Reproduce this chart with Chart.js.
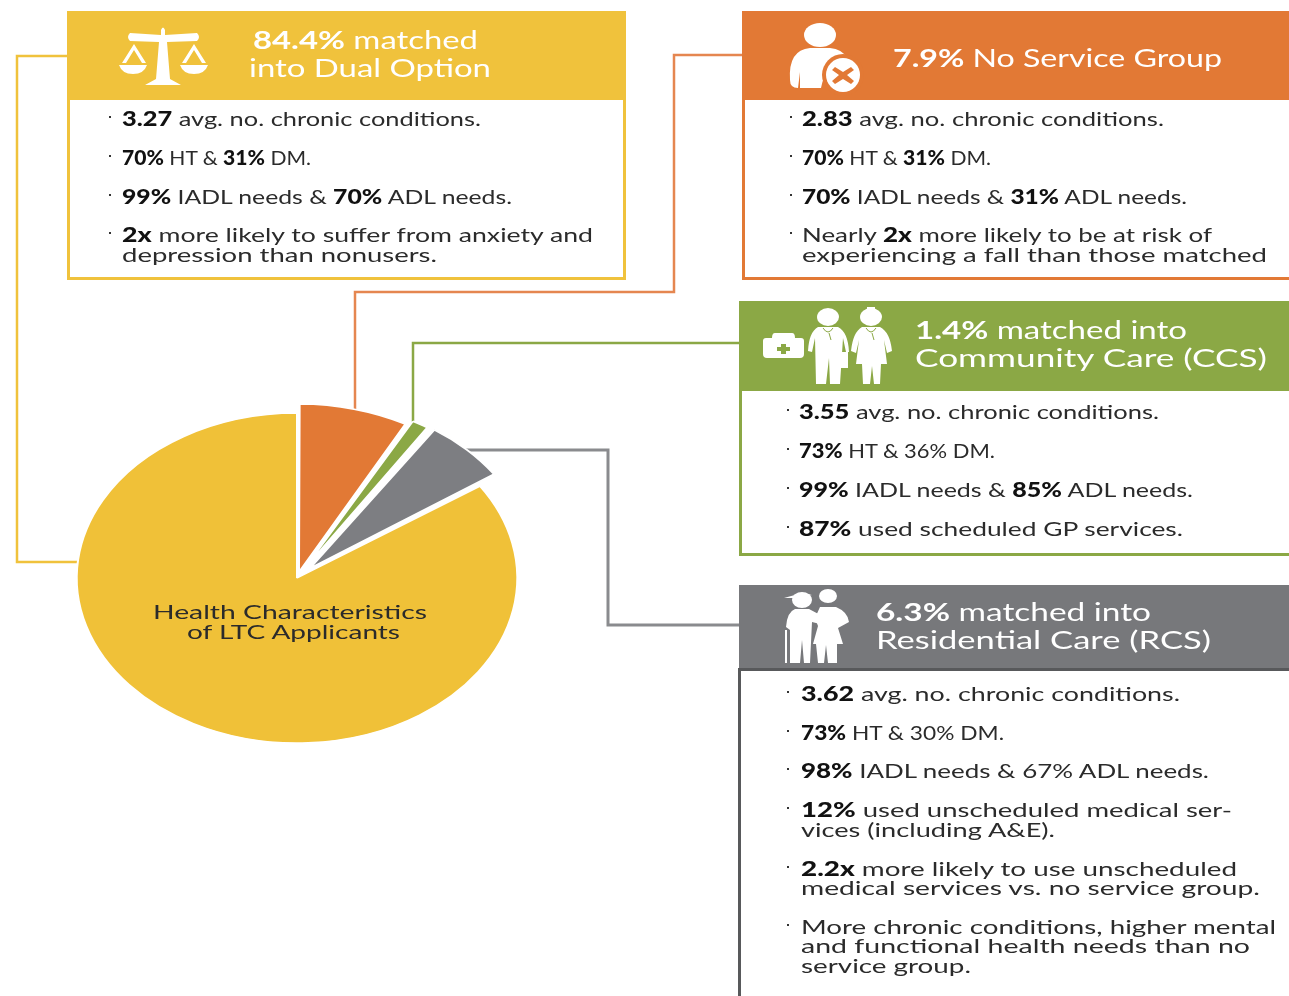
<!DOCTYPE html>
<html>
<head>
<meta charset="utf-8">
<script src="https://cdn.jsdelivr.net/npm/chart.js@4"></script>
<style>
  html, body { margin: 0; padding: 0; background: #fff; }
  body { position: relative; width: 1289px; height: 996px; overflow: hidden; font-family: Lato, sans-serif; }
  #links, #icons { position: absolute; left: 0; top: 0; }
  #pie_wrap { position: absolute; left: 17px; top: 298px; width: 560px; height: 560px; }
  .head, .box { position: absolute; box-sizing: border-box; }
  .t {
    position: absolute; white-space: nowrap; transform-origin: left center;
    font-size: 20px; line-height: 20px; color: #2b2b2b; margin-top: -11px;
  }
  .t b { font-weight: 900; color: #111; }
  .w { color: #fff; font-size: 25px; line-height: 26px; margin-top: -14px; }
  .w b { color: #fff; font-weight: 700; }
  .dot { position: absolute; width: 2px; height: 2px; background: #333; }
</style>
</head>
<body>
<svg id="links" width="1289" height="996" fill="none" stroke-width="2.5">
  <polyline points="67,56 17,56 17,562 79,562" stroke="#f0c23c"/>
  <polyline points="743,55 674,55 674,292 355,292 355,410" stroke="#e58650"/>
  <polyline points="740,343 413,343 413,425" stroke="#8ba845"/>
  <polyline points="739,625 608,625 608,450 465,450" stroke="#8a8b8e" stroke-width="3"/>
</svg>

<div class="head" style="left:67px;top:11px;width:559px;height:89px;background:#f0c23c"></div>
<div class="box" style="left:67px;top:100px;width:559px;height:180px;border:3px solid #f0c23c;border-top:0"></div>
<div class="head" style="left:742px;top:11px;width:547px;height:89px;background:#e27935"></div>
<div class="box" style="left:742px;top:100px;width:547px;height:180px;border-left:3px solid #e27935;border-bottom:3px solid #e27935"></div>
<div class="head" style="left:739px;top:301px;width:550px;height:90px;background:#8ba845"></div>
<div class="box" style="left:739px;top:391px;width:550px;height:165px;border-left:3px solid #8ba845;border-bottom:3px solid #8ba845"></div>
<div class="head" style="left:739px;top:585px;width:550px;height:83px;background:#77787b"></div>
<div class="box" style="left:738px;top:668px;width:551px;height:328px;border-left:3px solid #58595b;border-top:3px solid #58595b"></div>

<div id="pie_wrap"><canvas id="pie" width="560" height="560"></canvas></div>

<svg id="icons" width="1289" height="996" fill="#fff" stroke="none">
  <!-- scales -->
  <path d="M161,30 Q163,25 165,30 L165,35 L197,33 Q201,37 197,41 L167,42 L170,79 L181,85 L145,85 L156,79 L159,42 L130,41 Q126,37 130,33 L161,35 Z"/>
  <path d="M134,44 L146,63 L142,63 L134,50 L126,63 L122,63 Z M194,44 L206,63 L202,63 L194,50 L186,63 L182,63 Z"/>
  <path d="M119,65 L147,65 Q144,74 133,74 Q122,74 119,65 Z M180,65 L208,65 Q205,74 194,74 Q183,74 180,65 Z"/>
  <!-- person with cross -->
  <ellipse cx="820" cy="35" rx="16" ry="12"/>
  <path d="M790,80 Q788,50 810,48 L830,48 Q842,49 847,58 Q826,62 821,88 L800,88 L800,72 L798,88 Q790,88 790,80 Z"/>
  <circle cx="843" cy="75" r="21" fill="#e27935"/>
  <circle cx="843" cy="75" r="17"/>
  <path d="M835,67 L843,72 L851,67 L854,70 L847,75 L854,81 L851,84 L843,79 L835,84 L832,81 L839,75 L832,70 Z" fill="#e27935"/>
  <!-- first aid kit -->
  <path d="M775,333 L792,333 Q795,333 795,338 L801,338 Q804,338 804,341 L804,354 Q804,358 800,358 L767,358 Q763,358 763,354 L763,341 Q763,338 766,338 L772,338 Q772,333 775,333 Z"/>
  <path d="M781,344 L786,344 L786,347 L790,347 L790,351 L786,351 L786,354 L781,354 L781,351 L777,351 L777,347 L781,347 Z" fill="#8ba845"/>
  <!-- doctors -->
  <ellipse cx="828" cy="317" rx="11" ry="9"/>
  <path d="M818,327 L838,327 Q848,332 849,352 L846,352 L843,338 L840,384 L830,384 L829,358 L826,384 L816,384 L815,338 L812,352 L808,351 Q809,332 818,327 Z"/>
  <rect x="840" y="352" width="8" height="16"/>
  <path d="M823,328 Q828,336 833,328 M829,333 L831,340" fill="none" stroke="#8ba845" stroke-width="1"/>
  <ellipse cx="871" cy="317" rx="11" ry="9"/>
  <rect x="867" y="307" width="8" height="5"/>
  <path d="M862,327 L880,327 Q890,332 892,351 L887,353 L884,340 L887,364 L881,364 L880,384 L874,384 L872,366 L870,384 L863,384 L862,364 L856,364 L859,340 L856,353 L851,351 Q853,332 862,327 Z"/>
  <path d="M866,328 Q871,336 876,328 M872,333 L874,340" fill="none" stroke="#8ba845" stroke-width="1"/>
  <!-- patient and carer -->
  <ellipse cx="802" cy="600" rx="10" ry="8"/>
  <path d="M784,598 L802,593 L812,595 L800,598 Z"/>
  <ellipse cx="828" cy="596" rx="9" ry="7"/>
  <path d="M795,609 L809,609 L826,618 L824,625 L812,622 L810,663 L804,663 L802,640 L800,663 L790,663 L790,630 L786,627 Q787,612 795,609 Z"/>
  <path d="M820,607 L836,607 Q848,612 849,622 L838,628 L843,644 L837,644 L837,663 L828,663 L826,645 L824,663 L818,663 L816,644 L813,644 L818,626 L815,618 Z"/>
  <rect x="785" y="630" width="2" height="33"/>
</svg>

<!-- pie label -->
<div class="t" data-x="153" data-y="612" data-w="274">Health Characteristics</div>
<div class="t" data-x="187" data-y="632" data-w="213">of LTC Applicants</div>

<!-- dual option -->
<div class="t w" data-x="253" data-y="40" data-w="225"><b>84.4%</b> matched</div>
<div class="t w" data-x="249" data-y="68" data-w="242">into Dual Option</div>
<div class="t" data-b="109" data-x="122" data-y="119" data-w="359"><b>3.27</b> avg. no. chronic conditions.</div>
<div class="t" data-b="109" data-x="122" data-y="158" data-w="189"><b>70%</b> HT &amp; <b>31%</b> DM.</div>
<div class="t" data-b="109" data-x="122" data-y="197" data-w="390"><b>99%</b> IADL needs &amp; <b>70%</b> ADL needs.</div>
<div class="t" data-b="109" data-x="122" data-y="235" data-w="471"><b>2x</b> more likely to suffer from anxiety and</div>
<div class="t" data-x="122" data-y="255" data-w="315">depression than nonusers.</div>

<!-- no service -->
<div class="t w" data-x="893" data-y="58" data-w="329"><b>7.9%</b> No Service Group</div>
<div class="t" data-b="790" data-x="802" data-y="119" data-w="362"><b>2.83</b> avg. no. chronic conditions.</div>
<div class="t" data-b="790" data-x="802" data-y="158" data-w="189"><b>70%</b> HT &amp; <b>31%</b> DM.</div>
<div class="t" data-b="790" data-x="802" data-y="197" data-w="385"><b>70%</b> IADL needs &amp; <b>31%</b> ADL needs.</div>
<div class="t" data-b="790" data-x="802" data-y="235" data-w="410">Nearly <b>2x</b> more likely to be at risk of</div>
<div class="t" data-x="802" data-y="255" data-w="465">experiencing a fall than those matched</div>

<!-- community care -->
<div class="t w" data-x="915" data-y="330" data-w="272"><b>1.4%</b> matched into</div>
<div class="t w" data-x="915" data-y="358" data-w="352">Community Care (CCS)</div>
<div class="t" data-b="787" data-x="799" data-y="412" data-w="360"><b>3.55</b> avg. no. chronic conditions.</div>
<div class="t" data-b="787" data-x="799" data-y="451" data-w="196"><b>73%</b> HT &amp; 36% DM.</div>
<div class="t" data-b="787" data-x="799" data-y="490" data-w="394"><b>99%</b> IADL needs &amp; <b>85%</b> ADL needs.</div>
<div class="t" data-b="787" data-x="799" data-y="529" data-w="384"><b>87%</b> used scheduled GP services.</div>

<!-- residential care -->
<div class="t w" data-x="876" data-y="612" data-w="275"><b>6.3%</b> matched into</div>
<div class="t w" data-x="876" data-y="640" data-w="335">Residential Care (RCS)</div>
<div class="t" data-b="787" data-x="801" data-y="694" data-w="379"><b>3.62</b> avg. no. chronic conditions.</div>
<div class="t" data-b="787" data-x="801" data-y="733" data-w="203"><b>73%</b> HT &amp; 30% DM.</div>
<div class="t" data-b="787" data-x="801" data-y="771" data-w="408"><b>98%</b> IADL needs &amp; 67% ADL needs.</div>
<div class="t" data-b="787" data-x="801" data-y="810" data-w="431"><b>12%</b> used unscheduled medical ser-</div>
<div class="t" data-x="801" data-y="830" data-w="254">vices (including A&amp;E).</div>
<div class="t" data-b="787" data-x="801" data-y="869" data-w="436"><b>2.2x</b> more likely to use unscheduled</div>
<div class="t" data-x="801" data-y="888" data-w="459">medical services vs. no service group.</div>
<div class="t" data-b="787" data-x="801" data-y="927" data-w="475">More chronic conditions, higher mental</div>
<div class="t" data-x="801" data-y="946" data-w="449">and functional health needs than no</div>
<div class="t" data-x="801" data-y="966" data-w="170">service group.</div>

<script>
const groups = ["No Service Group", "Community Care (CCS)", "Residential Care (RCS)", "Dual Option"];
const shares = [7.9, 1.4, 6.3, 84.4];

const yellow = "#f0c138";
const orange = "#e27935";
const green = "#8ba845";
const grey = "#7d7e82";

// the picture is stretched sideways, so the pie is an ellipse
const stretchX = 1.335;
const sliceRadius = [165, 162, 158, 165]; // chart.js adds the drawn offset to these

const ellipsePlugin = {
  id: "ellipse",
  afterDatasetUpdate(chart) {
    chart.getDatasetMeta(0).data.forEach((arc, i) => { arc.outerRadius = sliceRadius[i]; });
  },
  beforeDatasetsDraw(chart) {
    const c = chart.ctx;
    const cx = chart.width / 2;
    c.save();
    c.translate(cx, 0);
    c.scale(stretchX, 1);
    c.translate(-cx, 0);
  },
  afterDatasetsDraw(chart) {
    chart.ctx.restore();
  }
};

new Chart(document.getElementById("pie"), {
  type: "pie",
  data: {
    labels: groups,
    datasets: [{
      data: shares,
      backgroundColor: [orange, green, grey, yellow],
      borderColor: "#fff",
      borderWidth: 1.5,
      offset: [24, 36, 56, 0], // chart.js draws these at a quarter
      clip: false
    }]
  },
  options: {
    responsive: false,
    animation: false,
    events: [],
    plugins: { legend: { display: false }, tooltip: { enabled: false } }
  },
  plugins: [ellipsePlugin]
});

// fit every text line to its width, the original type is very wide
document.querySelectorAll(".t").forEach(el => {
  el.style.left = el.dataset.x + "px";
  el.style.top = el.dataset.y + "px";
  const k = parseFloat(el.dataset.w) / el.getBoundingClientRect().width;
  el.style.transform = "scaleX(" + k + ")";
  if (el.dataset.b) {
    const d = document.createElement("div");
    d.className = "dot";
    d.style.left = el.dataset.b + "px";
    d.style.top = (parseFloat(el.dataset.y) - 3) + "px";
    document.body.appendChild(d);
  }
});
</script>
</body>
</html>
